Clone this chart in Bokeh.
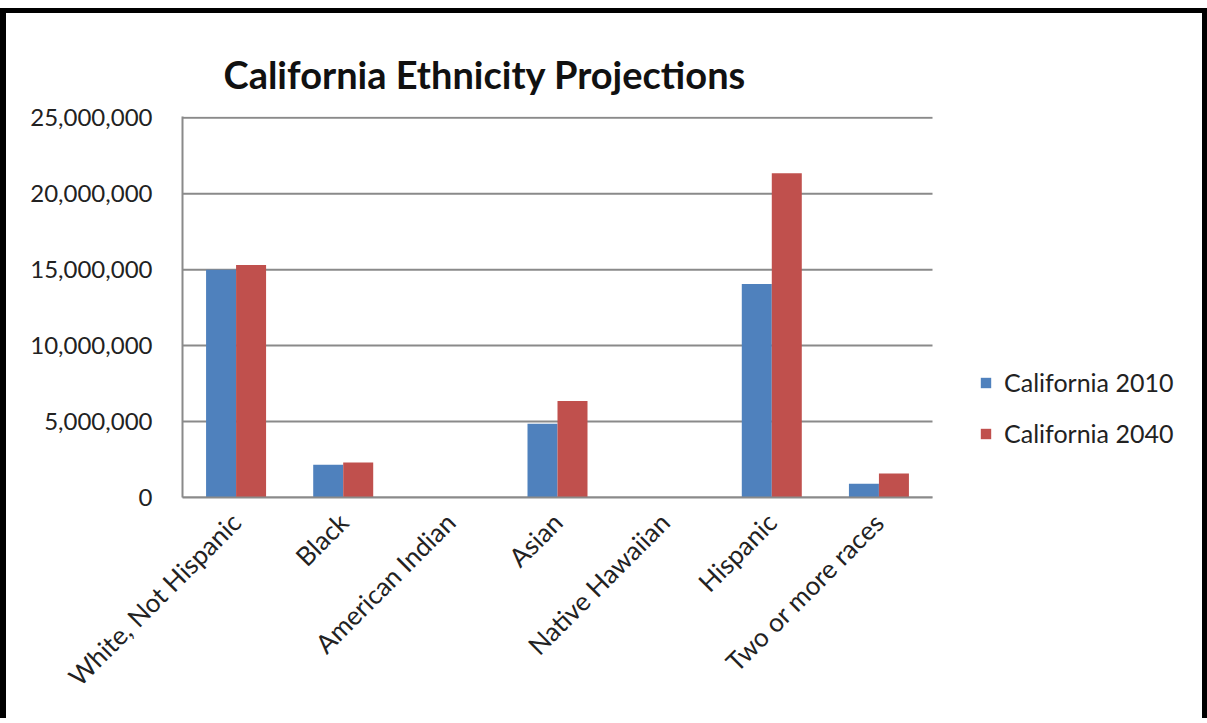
import math

from bokeh.embed import file_html
from bokeh.models import (ColumnDataSource, FixedTicker, Legend, LegendItem,
                          NumeralTickFormatter, Range1d)
from bokeh.plotting import figure
from bokeh.resources import INLINE

# Population by ethnic group, 2010 census and 2040 projection
categories = ["White, Not Hispanic", "Black", "American Indian", "Asian",
              "Native Hawaiian", "Hispanic", "Two or more races"]
ca_2010 = [15000000, 2150000, 0, 4850000, 0, 14050000, 900000]
ca_2040 = [15300000, 2300000, 0, 6350000, 0, 21350000, 1580000]
series_names = ["California 2010", "California 2040"]
y_ticks = [0, 5000000, 10000000, 15000000, 20000000, 25000000]

BLUE = "#4F81BD"
RED = "#C0504D"
GRID = "#8a8a8a"
FONT = "Lato"

n = len(categories)
centers = [i + 0.5 for i in range(n)]
bw = 0.28

# the bar area spans 750 px; the frame continues to the right to hold the legend
bar_area_px = 750
frame_px = 1020

source = ColumnDataSource(data=dict(
    x=centers, cat=categories, y2010=ca_2010, y2040=ca_2040,
    x2010=[c - bw / 2 for c in centers], x2040=[c + bw / 2 for c in centers],
))

p = figure(
    frame_width=frame_px, frame_height=381,
    x_range=Range1d(0, n * frame_px / bar_area_px),
    y_range=Range1d(0, 25080000),
    output_backend="svg", toolbar_location=None,
    min_border_left=176, min_border_right=0,
    min_border_top=103, min_border_bottom=221,
    title="California Ethnicity Projections",
)
p.styles = {"border-top": "5px solid black", "border-left": "6px solid black",
            "border-right": "6px solid black", "margin-top": "8px"}

p.title.text_font = FONT
p.title.text_font_size = "38px"
p.title.text_font_style = "bold"
p.title.text_color = "#111111"
p.title.align = "left"
p.title.offset = 41
p.title.standoff = 40

# horizontal gridlines across the bar area only
p.segment(x0=0, x1=n, y0=y_ticks, y1=y_ticks, line_color=GRID, line_width=2)

r1 = p.vbar(x="x2010", top="y2010", width=bw, source=source,
            fill_color=BLUE, line_color=None)
r2 = p.vbar(x="x2040", top="y2040", width=bw, source=source,
            fill_color=RED, line_color=None)

# axes
p.yaxis.ticker = FixedTicker(ticks=y_ticks)
p.yaxis.formatter = NumeralTickFormatter(format="0,0")
p.yaxis.major_tick_line_color = None
p.yaxis.minor_tick_line_color = None
p.yaxis.axis_line_color = GRID
p.yaxis.axis_line_width = 2
p.yaxis.major_label_standoff = 24
p.yaxis.major_label_text_font = FONT
p.yaxis.major_label_text_font_size = "24px"
p.yaxis.major_label_text_color = "#222222"

p.xaxis.ticker = FixedTicker(ticks=centers)
p.xaxis.major_label_overrides = {c: name for c, name in zip(centers, categories)}
p.xaxis.bounds = (0, n)
p.xaxis.major_tick_line_color = None
p.xaxis.minor_tick_line_color = None
p.xaxis.axis_line_color = GRID
p.xaxis.axis_line_width = 2
p.xaxis.major_label_orientation = math.pi / 4
p.xaxis.major_label_standoff = 14
p.xaxis.major_label_text_font = FONT
p.xaxis.major_label_text_font_size = "26px"
p.xaxis.major_label_text_color = "#222222"

p.xgrid.grid_line_color = None
p.ygrid.grid_line_color = None
p.outline_line_color = None

legend = Legend(items=[LegendItem(label=series_names[0], renderers=[r1]),
                       LegendItem(label=series_names[1], renderers=[r2])],
                location=(797, 49))
legend.label_text_font = FONT
legend.label_text_font_size = "25px"
legend.label_text_color = "#222222"
legend.glyph_width = 13
legend.glyph_height = 13
legend.label_standoff = 12
legend.spacing = 21
legend.padding = 0
legend.margin = 0
legend.border_line_color = None
legend.background_fill_alpha = 0
p.add_layout(legend)

open("out.html", "w").write(file_html(p, INLINE))
